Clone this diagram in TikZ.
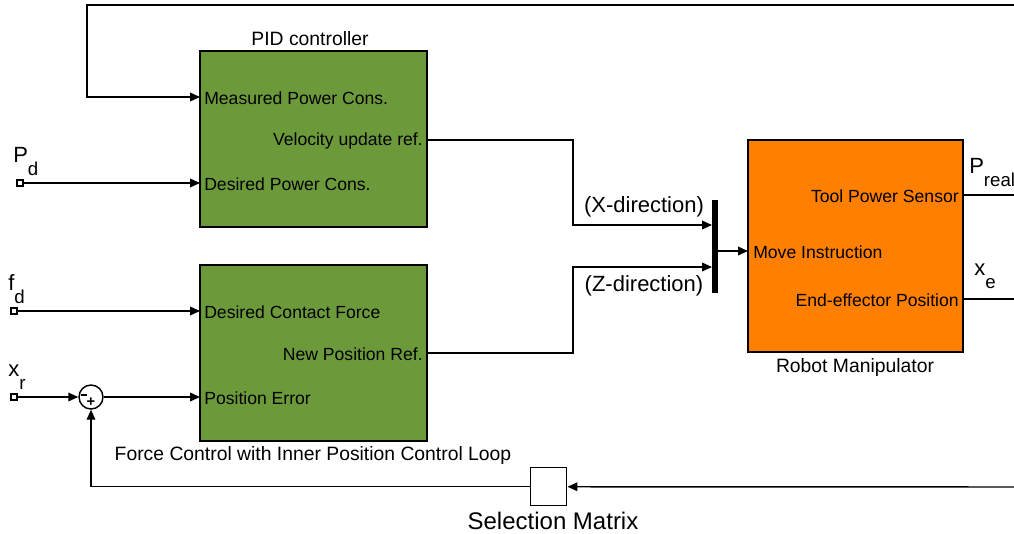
\documentclass[tikz,border=0pt]{standalone}
\usepackage{fontspec}
\setmainfont{Liberation Sans}
\usetikzlibrary{arrows.meta}
\definecolor{ctrlgreen}{HTML}{6C9A3B}
\definecolor{robotorange}{HTML}{FF8000}

\begin{document}
\begin{tikzpicture}[
  x=0.75pt,
  y=-0.75pt,
  line join=miter,
  wire/.style={draw=black,line width=1.1pt},
  signal/.style={wire,-{Triangle[length=7.5pt,width=6.5pt]}},
  ctrlblock/.style={draw=black,line width=1.1pt,fill=ctrlgreen,anchor=north west,
    inner sep=0pt,outer sep=0pt,minimum width=170.25pt,minimum height=132pt},
  robotblock/.style={ctrlblock,fill=robotorange,minimum width=161.25pt,minimum height=159pt},
  inport/.style={draw=black,line width=0.8pt,fill=white,inner sep=0pt,minimum size=4.5pt},
  portlabel/.style={font=\fontsize{13.2}{15}\selectfont,inner sep=0pt},
  caption/.style={font=\fontsize{14.5}{16}\selectfont,inner sep=0pt},
  biglabel/.style={font=\fontsize{16.5}{18}\selectfont,inner sep=0pt},
  sumsign/.style={font=\fontsize{11}{11}\selectfont\bfseries,inner sep=0pt}
]
  % Keep the margins of the original artwork.
  \useasboundingbox (0,0) rectangle (1014,533);

  % Controller blocks and the plant.
  \node[ctrlblock] (pid) at (200,51) {};
  \node[ctrlblock] (force) at (200,265) {};
  \node[robotblock] (robot) at (748,140) {};
  \node[draw=black,line width=1.1pt,fill=white,anchor=north west,inner sep=0pt,
    minimum width=27pt,minimum height=28.5pt] (selmat) at (530,467) {};
  \node[fill=black,anchor=north west,inner sep=0pt,outer sep=0pt,
    minimum width=4.5pt,minimum height=69.75pt] (mux) at (712,200) {};
  \node[draw=black,line width=1.1pt,circle,inner sep=0pt,minimum size=18pt] (sum) at (91,397) {};
  \node[fill=black,inner sep=0pt,minimum width=4pt,minimum height=1pt] (summinus) at (84,395) {};
  \node[sumsign] (sumplus) at (91,402) {+};

  % Block titles.
  \node[caption] (pidtitle) at (310,39) {PID controller};
  \node[caption] (forcetitle) at (313,455) {Force Control with Inner Position Control Loop};
  \node[caption] (robottitle) at (855,367) {Robot Manipulator};
  \node[font=\fontsize{18}{20}\selectfont,inner sep=0pt] (seltitle) at (553,521) {Selection Matrix};

  % Port positions on the blocks.
  \coordinate (pid-in1) at (200,97);
  \coordinate (pid-in2) at (200,183);
  \coordinate (pid-out) at (427,140);
  \coordinate (force-in1) at (200,311);
  \coordinate (force-in2) at (200,397);
  \coordinate (force-out) at (427,353);
  \coordinate (mux-in1) at (712,225);
  \coordinate (mux-in2) at (712,267);
  \coordinate (mux-out) at (716.5,251);
  \coordinate (robot-in) at (748,251);
  \coordinate (robot-out1) at (963,195);
  \coordinate (robot-out2) at (963,299);

  % Port labels.
  \node[portlabel,anchor=west] (lbl-meas) at (204,98) {Measured Power Cons.};
  \node[portlabel,anchor=west] (lbl-despow) at (204,184) {Desired Power Cons.};
  \node[portlabel,anchor=east] (lbl-vel) at (423,141) {Velocity update ref.};
  \node[portlabel,anchor=west] (lbl-force) at (204,312) {Desired Contact Force};
  \node[portlabel,anchor=west] (lbl-poserr) at (204,398) {Position Error};
  \node[portlabel,anchor=east] (lbl-newpos) at (423,354) {New Position Ref.};
  \node[portlabel,anchor=west] (lbl-move) at (753,252) {Move Instruction};
  \node[portlabel,anchor=east] (lbl-tool) at (959,196) {Tool Power Sensor};
  \node[portlabel,anchor=east] (lbl-eepos) at (959,300) {End-effector Position};

  % Left inputs.
  \node[inport] (pd) at (20,183) {};
  \node[inport] (fd) at (14,311) {};
  \node[inport] (xr) at (14,397) {};
  \node[biglabel,anchor=south west] (pd-lbl) at (13,176) {P\raisebox{-1.1ex}{\fontsize{14}{14}\selectfont d}};
  \node[biglabel,anchor=south west] (fd-lbl) at (8,304) {f\raisebox{-1.1ex}{\fontsize{14}{14}\selectfont d}};
  \node[biglabel,anchor=south west] (xr-lbl) at (8,390) {x\raisebox{-1.1ex}{\fontsize{14}{14}\selectfont r}};

  % Right outputs, cut at the frame.
  \coordinate (preal-end) at (1014,195);
  \coordinate (xe-end) at (1014,299);
  \node[biglabel,anchor=south west] (preal-lbl) at (969,187) {P\raisebox{-1.1ex}{\fontsize{14}{14}\selectfont real}};
  \node[biglabel,anchor=south west] (xe-lbl) at (974,289) {x\raisebox{-1.1ex}{\fontsize{14}{14}\selectfont e}};

  % Direction labels at the mux.
  \node[biglabel] (xdir) at (644,207) {(X-direction)};
  \node[biglabel] (zdir) at (644,286) {(Z-direction)};

  % Feedback paths coming in from the right.
  \coordinate (fbtop-end) at (1014,5);
  \coordinate (fbtop-turn) at (87,5);
  \coordinate (fbbot-end) at (1014,487);

  % Signals.
  \draw[signal] (pd) -- (pid-in2);
  \draw[signal] (fd) -- (force-in1);
  \draw[signal] (xr) -- (sum);
  \draw[signal] (sum) -- (force-in2);
  \draw[signal] (fbtop-end) -- (fbtop-turn) |- (pid-in1);
  \draw[signal] (pid-out) -- ++(146,0) |- (mux-in1);
  \draw[signal] (force-out) -- ++(146,0) |- (mux-in2);
  \draw[signal] (mux-out) -- (robot-in);
  \draw[wire] (robot-out1) -- (preal-end);
  \draw[wire] (robot-out2) -- (xe-end);
  \draw[signal] (fbbot-end) -- (selmat);
  \draw[signal] (selmat) -| (sum);
\end{tikzpicture}
\end{document}
